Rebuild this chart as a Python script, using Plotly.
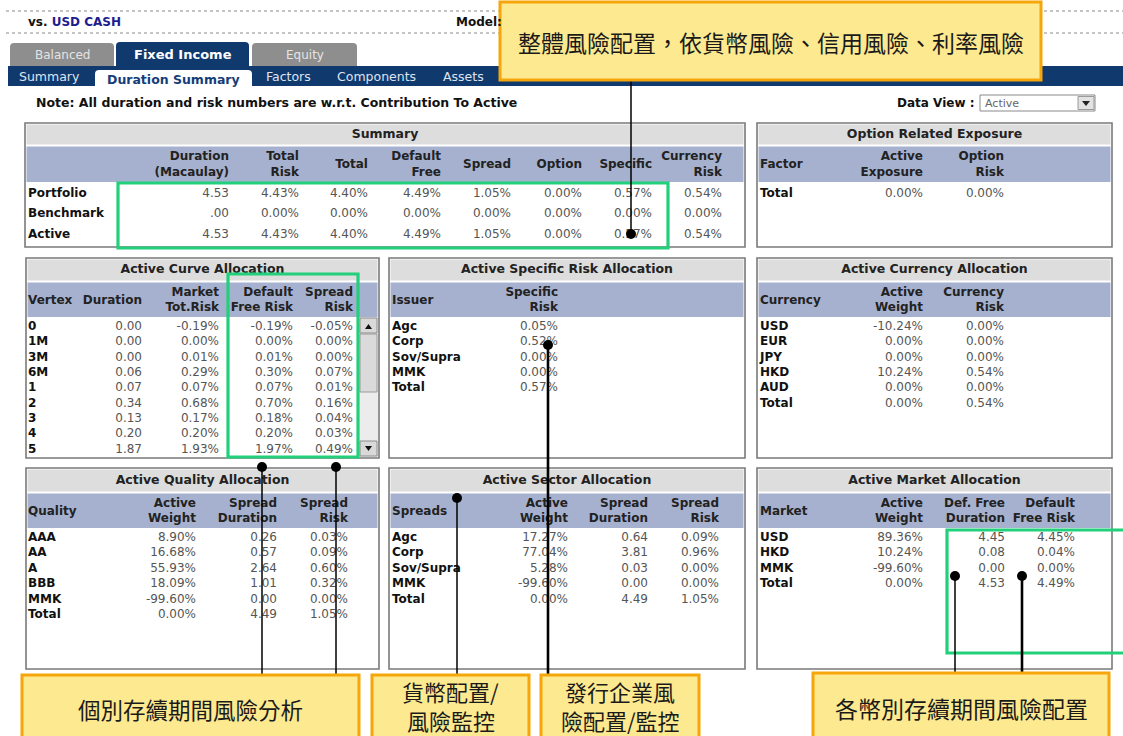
import plotly.graph_objects as go

# ---------------- data ----------------
summary_rows = ["Portfolio", "Benchmark", "Active"]
summary_headers = ["Duration<br>(Macaulay)", "Total<br>Risk", "Total", "Default<br>Free",
                   "Spread", "Option", "Specific", "Currency<br>Risk"]
summary_duration = [4.53, 0.00, 4.53]
summary_total_risk = [4.43, 0.00, 4.43]
summary_total = [4.40, 0.00, 4.40]
summary_default_free = [4.49, 0.00, 4.49]
summary_spread = [1.05, 0.00, 1.05]
summary_option = [0.00, 0.00, 0.00]
summary_specific = [0.57, 0.00, 0.57]
summary_currency_risk = [0.54, 0.00, 0.54]

option_factors = ["Total"]
option_headers = ["Active<br>Exposure", "Option<br>Risk"]
option_active_exposure = [0.00]
option_risk = [0.00]

curve_vertex = ["0", "1M", "3M", "6M", "1", "2", "3", "4", "5"]
curve_headers = ["Duration", "Market<br>Tot.Risk", "Default<br>Free Risk", "Spread<br>Risk"]
curve_duration = [0.00, 0.00, 0.00, 0.06, 0.07, 0.34, 0.13, 0.20, 1.87]
curve_market_tot_risk = [-0.19, 0.00, 0.01, 0.29, 0.07, 0.68, 0.17, 0.20, 1.93]
curve_default_free_risk = [-0.19, 0.00, 0.01, 0.30, 0.07, 0.70, 0.18, 0.20, 1.97]
curve_spread_risk = [-0.05, 0.00, 0.00, 0.07, 0.01, 0.16, 0.04, 0.03, 0.49]

issuers = ["Agc", "Corp", "Sov/Supra", "MMK", "Total"]
issuer_headers = ["Specific<br>Risk"]
issuer_specific_risk = [0.05, 0.52, 0.00, 0.00, 0.57]

currencies = ["USD", "EUR", "JPY", "HKD", "AUD", "Total"]
currency_headers = ["Active<br>Weight", "Currency<br>Risk"]
currency_active_weight = [-10.24, 0.00, 0.00, 10.24, 0.00, 0.00]
currency_risk = [0.00, 0.00, 0.00, 0.54, 0.00, 0.54]

qualities = ["AAA", "AA", "A", "BBB", "MMK", "Total"]
quality_headers = ["Active<br>Weight", "Spread<br>Duration", "Spread<br>Risk"]
quality_active_weight = [8.90, 16.68, 55.93, 18.09, -99.60, 0.00]
quality_spread_duration = [0.26, 0.57, 2.64, 1.01, 0.00, 4.49]
quality_spread_risk = [0.03, 0.09, 0.60, 0.32, 0.00, 1.05]

sectors = ["Agc", "Corp", "Sov/Supra", "MMK", "Total"]
sector_headers = ["Active<br>Weight", "Spread<br>Duration", "Spread<br>Risk"]
sector_active_weight = [17.27, 77.04, 5.28, -99.60, 0.00]
sector_spread_duration = [0.64, 3.81, 0.03, 0.00, 4.49]
sector_spread_risk = [0.09, 0.96, 0.00, 0.00, 1.05]

markets = ["USD", "HKD", "MMK", "Total"]
market_headers = ["Active<br>Weight", "Def. Free<br>Duration", "Default<br>Free Risk"]
market_active_weight = [89.36, 10.24, -99.60, 0.00]
market_def_free_duration = [4.45, 0.08, 0.00, 4.53]
market_default_free_risk = [4.45, 0.04, 0.00, 4.49]

top_tabs = ["Balanced", "Fixed Income", "Equity"]
nav_items = ["Summary", "Duration Summary", "Factors", "Components", "Assets"]
note_text = "Note: All duration and risk numbers are w.r.t. Contribution To Active"

callout_top = ["整體風險配置，依貨幣風險、信用風險、利率風險"]
callout_curve = ["個別存續期間風險分析"]
callout_currency = ["貨幣配置/", "風險監控"]
callout_issuer = ["發行企業風", "險配置/監控"]
callout_market = ["各幣別存續期間風險配置"]

# ---------------- styles ----------------
FONT = "DejaVu Sans"
CJK = "Noto Sans CJK TC"
NAVY = "#10396e"
TITLE_BG = "#dddddd"
HEAD_BG = "#a6b1cf"
BORDER = "#7a7a7a"
GREEN = "#22cf7a"
YELLOW = "#fde98f"
ORANGE = "#f6a50a"
VAL = "#555555"
INK = "#111111"
TABGRAY = "#8e8e8e"

pct = lambda v: f"{v:.2f}%"
num = lambda v: f"{v:.2f}"
mac = lambda v: f"{v:.2f}" if v else ".00"

fig = go.Figure()
shapes, annots = [], []


def add_text(xs, ys, texts, pos, size=12, color=INK, bold=False, family=FONT):
    fig.add_trace(go.Scatter(
        x=xs, y=ys, text=texts, mode="text", textposition=pos,
        textfont=dict(family=family, size=size, color=color,
                      weight="bold" if bold else "normal"),
        hoverinfo="skip", showlegend=False, cliponaxis=False))


def rect(x0, y0, x1, y1, fill=None, line=None, lw=1.0, layer="below", dash=None):
    shapes.append(dict(type="rect", xref="x", yref="y", x0=x0, y0=y0, x1=x1, y1=y1,
                       fillcolor=fill or "rgba(0,0,0,0)",
                       line=dict(color=line or "rgba(0,0,0,0)", width=lw if line else 0,
                                 dash=dash or "solid"),
                       layer=layer))


def path(d, fill=None, line=None, lw=1.0, layer="below"):
    shapes.append(dict(type="path", xref="x", yref="y", path=d,
                       fillcolor=fill or "rgba(0,0,0,0)",
                       line=dict(color=line or "rgba(0,0,0,0)", width=lw if line else 0),
                       layer=layer))


def tab(x0, y0, x1, y1, r, fill):
    path(f"M{x0},{y1} L{x0},{y0 + r} Q{x0},{y0} {x0 + r},{y0} L{x1 - r},{y0} "
         f"Q{x1},{y0} {x1},{y0 + r} L{x1},{y1} Z", fill=fill)


def annot(x, y, s, size=12, color=INK, bold=False, xanchor="left", family=FONT):
    annots.append(dict(x=x, y=y, xref="x", yref="y", text=s, showarrow=False,
                       xanchor=xanchor, yanchor="middle", borderpad=0,
                       font=dict(family=family, size=size, color=color,
                                 weight="bold" if bold else "normal")))


# ---------------- page chrome ----------------
for yy in (11, 33):
    shapes.append(dict(type="line", xref="x", yref="y", x0=6, x1=1123, y0=yy, y1=yy,
                       line=dict(color="#8a8a8a", width=1, dash="dot"), layer="below"))
annot(27, 22, "vs. <span style='color:#1d1d8f'>USD CASH</span>", size=12, bold=True)
annot(455, 22, "Model:", size=12, bold=True)

tab_geo = [(10, 43, 114, 66, TABGRAY, "#e4e4e4", 12, False),
           (116, 42, 249, 66, NAVY, "#ffffff", 13, True),
           (252, 43, 357, 66, TABGRAY, "#e4e4e4", 12, False)]
for label, (x0, y0, x1, y1, fill, fc, fs, b) in zip(top_tabs, tab_geo):
    tab(x0, y0, x1, y1, 4, fill)
    annot((x0 + x1) / 2, 54.5, label, size=fs, color=fc, bold=b, xanchor="center")

rect(8, 66, 1123, 86, fill=NAVY)
tab(95, 70, 252, 87, 4, "#ffffff")
nav_x = [49, 173, 288, 376, 463]
for i, (label, cx) in enumerate(zip(nav_items, nav_x)):
    if i == 1:
        annot(cx, 79.5, label, size=12.5, color="#163d78", bold=True, xanchor="center")
    else:
        annot(cx, 76, label, size=12.5, color="#dfe4f0", xanchor="center")

annot(35, 102, note_text, size=12.5, bold=True)
annot(896, 103, "Data View :", size=12, bold=True)
rect(980, 95, 1095, 111, fill="#ffffff", line="#8a8a8a", lw=1)
annot(984, 103, "Active", size=11, color="#666666")
rect(1078, 96.5, 1094, 109.5, fill="#e2e2e2", line="#9a9a9a", lw=1)
path("M1082,101 L1090,101 L1086,106 Z", fill="#222222")

# ---------------- panels ----------------
panels = [
    dict(title="Summary", x0=25, x1=745, top=123, tb=145, hb=182, bottom=247,
         lhead="", labels=summary_rows, heads=summary_headers,
         cols=[summary_duration, summary_total_risk, summary_total, summary_default_free,
               summary_spread, summary_option, summary_specific, summary_currency_risk],
         fmts=[mac, pct, pct, pct, pct, pct, pct, pct],
         lx=28, cx=[229, 299, 368, 441, 511, 582, 652, 722], ry=193.5, dy=20.8),
    dict(title="Option Related Exposure", x0=757, x1=1112, top=123, tb=145, hb=182, bottom=247,
         lhead="Factor", labels=option_factors, heads=option_headers,
         cols=[option_active_exposure, option_risk], fmts=[pct, pct],
         lx=760, cx=[923, 1004], ry=193.5, dy=20.8),
    dict(title="Active Curve Allocation", x0=26, x1=379, top=258, tb=281, hb=317, bottom=458,
         lhead="Vertex", labels=curve_vertex, heads=curve_headers,
         cols=[curve_duration, curve_market_tot_risk, curve_default_free_risk, curve_spread_risk],
         fmts=[num, pct, pct, pct],
         lx=28, cx=[142, 219, 293, 353], ry=327, dy=15.35),
    dict(title="Active Specific Risk Allocation", x0=389, x1=745, top=258, tb=281, hb=317,
         bottom=458, lhead="Issuer", labels=issuers, heads=issuer_headers,
         cols=[issuer_specific_risk], fmts=[pct],
         lx=392, cx=[558], ry=327, dy=15.35),
    dict(title="Active Currency Allocation", x0=757, x1=1112, top=258, tb=281, hb=317,
         bottom=458, lhead="Currency", labels=currencies, heads=currency_headers,
         cols=[currency_active_weight, currency_risk], fmts=[pct, pct],
         lx=760, cx=[923, 1004], ry=327, dy=15.35),
    dict(title="Active Quality Allocation", x0=26, x1=379, top=468, tb=492, hb=528, bottom=669,
         lhead="Quality", labels=qualities, heads=quality_headers,
         cols=[quality_active_weight, quality_spread_duration, quality_spread_risk],
         fmts=[pct, num, pct],
         lx=28, cx=[196, 277, 348], ry=538, dy=15.4),
    dict(title="Active Sector Allocation", x0=389, x1=745, top=468, tb=492, hb=528, bottom=669,
         lhead="Spreads", labels=sectors, heads=sector_headers,
         cols=[sector_active_weight, sector_spread_duration, sector_spread_risk],
         fmts=[pct, num, pct],
         lx=392, cx=[568, 648, 719], ry=538, dy=15.4),
    dict(title="Active Market Allocation", x0=757, x1=1112, top=468, tb=492, hb=528, bottom=669,
         lhead="Market", labels=markets, heads=market_headers,
         cols=[market_active_weight, market_def_free_duration, market_default_free_risk],
         fmts=[pct, num, pct],
         lx=760, cx=[923, 1005, 1075], ry=538, dy=15.4),
]

for p in panels:
    rect(p["x0"], p["top"], p["x1"], p["bottom"], fill="#ffffff", line=BORDER, lw=1.6)
    rect(p["x0"] + 1.5, p["top"] + 1.5, p["x1"] - 1.5, p["tb"] - 0.5, fill=TITLE_BG)
    rect(p["x0"] + 1.5, p["tb"] + 1.5, p["x1"] - 1.5, p["hb"], fill=HEAD_BG)
    add_text([(p["x0"] + p["x1"]) / 2], [(p["top"] + p["tb"]) / 2 + 0.5], [p["title"]],
             "middle center", size=12.5, color="#222222", bold=True)
    hy = (p["tb"] + p["hb"]) / 2 + 1.5
    if p["lhead"]:
        add_text([p["lx"]], [hy], [p["lhead"]], "middle right", color="#222222", bold=True)
    add_text(p["cx"], [hy] * len(p["cx"]), p["heads"], "middle left", color="#222222", bold=True)
    ys = [p["ry"] + i * p["dy"] for i in range(len(p["labels"]))]
    add_text([p["lx"]] * len(ys), ys, p["labels"], "middle right", color=INK, bold=True)
    for vals, xr, fmt in zip(p["cols"], p["cx"], p["fmts"]):
        add_text([xr] * len(vals), ys, [fmt(v) for v in vals], "middle left", color=VAL)

# scrollbar of the curve panel
rect(359, 317, 378, 457, fill="#ececec")
rect(360, 318, 377, 333, fill="#d9d9d9", line="#8c8c8c", lw=1)
path("M365,329 L372,329 L368.5,324 Z", fill="#111111")
rect(360, 334, 377, 392, fill="#dadada", line="#9a9a9a", lw=1)
rect(360, 441, 377, 456, fill="#d9d9d9", line="#8c8c8c", lw=1)
path("M365,446 L372,446 L368.5,451 Z", fill="#111111")

# ---------------- highlight boxes ----------------
rect(118, 183, 668, 248, line=GREEN, lw=3.2, layer="above")
rect(228, 274, 358, 457, line=GREEN, lw=3.2, layer="above")
rect(947, 530, 1128, 653, line=GREEN, lw=3.2, layer="above")

# ---------------- callout boxes and connectors ----------------
connectors = [(631, 234, 80, 1.5), (548, 345, 676, 2.6), (457, 498, 676, 1.5),
              (262, 467, 676, 1.5), (336, 467, 676, 1.5), (955, 576, 674, 1.5),
              (1022, 576, 674, 2.6)]
for cx, cy, yend, w in connectors:
    shapes.append(dict(type="line", xref="x", yref="y", x0=cx, x1=cx, y0=cy, y1=yend,
                       line=dict(color="#000000", width=w), layer="above"))
    shapes.append(dict(type="circle", xref="x", yref="y", x0=cx - 5, x1=cx + 5,
                       y0=cy - 5, y1=cy + 5, fillcolor="#000000",
                       line=dict(color="#000000", width=0), layer="above"))

boxes = [((500, 2, 1041, 80), callout_top, [42], 23),
         ((22, 675, 359, 745), callout_curve, [709], 22.5),
         ((372, 675, 529, 745), callout_currency, [691, 720], 22),
         ((541, 675, 699, 745), callout_issuer, [691, 720], 22),
         ((813, 673, 1109, 745), callout_market, [708], 23)]
for (x0, y0, x1, y1), lines, ly, fs in boxes:
    rect(x0, y0, x1, y1, fill=YELLOW, line=ORANGE, lw=3, layer="above")
    for s, yy in zip(lines, ly):
        annot((x0 + x1) / 2, yy, s, size=fs, color="#1a1a1a", xanchor="center", family=CJK)

fig.update_layout(
    width=1123, height=736, margin=dict(l=0, r=0, t=0, b=0),
    paper_bgcolor="#ffffff", plot_bgcolor="#ffffff",
    xaxis=dict(range=[0, 1123], visible=False, fixedrange=True),
    yaxis=dict(range=[736, 0], visible=False, fixedrange=True),
    shapes=shapes, annotations=annots, showlegend=False,
)
fig.write_html(
    "out.html",
    config={"displayModeBar": False},
    post_script="document.body.style.margin='0px';document.body.style.overflow='hidden';",
)
